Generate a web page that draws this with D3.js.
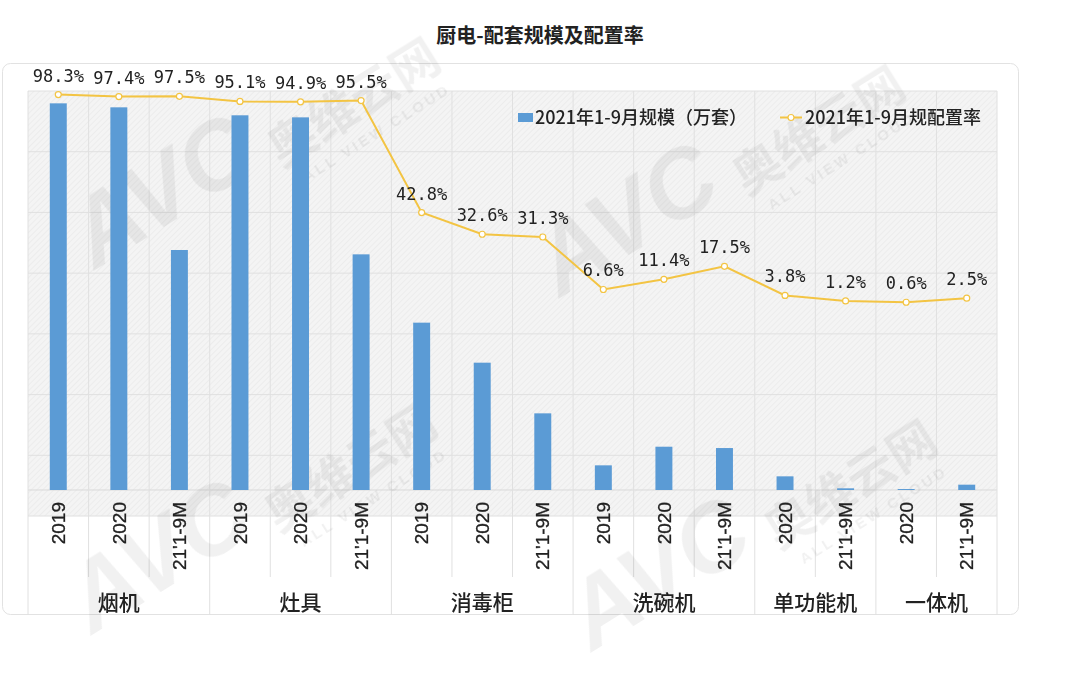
<!DOCTYPE html>
<html>
<head>
<meta charset="utf-8">
<script src="https://cdn.jsdelivr.net/npm/d3@7"></script>
<style>
  body { margin: 0; background: #fff; }
  svg text { font-family: "Noto Sans CJK SC", "Noto Sans", sans-serif; }
</style>
</head>
<body>
<svg id="chart"></svg>
<script>
const width = 1080;
const height = 685;

// data
const groups = ["烟机", "灶具", "消毒柜", "洗碗机", "单功能机", "一体机"];
const groupYears = [
  ["2019", "2020", "21'1-9M"],
  ["2019", "2020", "21'1-9M"],
  ["2019", "2020", "21'1-9M"],
  ["2019", "2020", "21'1-9M"],
  ["2020", "21'1-9M"],
  ["2020", "21'1-9M"]
];
// 2021年1-9月规模（万套）
const scaleValues = [319.8, 316.5, 198.5, 309.9, 308.2, 194.9, 138.4, 105.3, 63.4, 20.4, 35.8, 34.7, 11.3, 1.4, 0.8, 4.4];
// 配置率 (%)
const rateValues = [98.3, 97.4, 97.5, 95.1, 94.9, 95.5, 42.8, 32.6, 31.3, 6.6, 11.4, 17.5, 3.8, 1.2, 0.6, 2.5];
const legendNames = ["2021年1-9月规模（万套）", "2021年1-9月规配置率"];

const blue = "#5b9bd5";
const gold = "#f3c443";

const plotLeft = 28, plotRight = 997, plotTop = 91, gridBottom = 516, base = 490;

// flatten into rows
const rows = [];
groups.forEach((g, gi) => {
  groupYears[gi].forEach(yr => {
    const i = rows.length;
    rows.push({ id: i, group: g, year: yr, value: scaleValues[i], rate: rateValues[i] });
  });
});

const svg = d3.select("#chart")
  .attr("width", width)
  .attr("height", height);

const x = d3.scaleBand()
  .domain(rows.map(d => d.id))
  .range([plotLeft, plotRight])
  .padding(0);

const y = d3.scaleLinear()
  .domain([0, 330])
  .range([base, plotTop]);

const yRate = d3.scaleLinear()
  .domain([-100, 100])
  .range([gridBottom, plotTop]);

// title
svg.append("text")
  .attr("x", 540)
  .attr("y", 43)
  .attr("text-anchor", "middle")
  .attr("font-size", 20)
  .attr("font-weight", "bold")
  .attr("fill", "#222")
  .text("厨电-配套规模及配置率");

// card
svg.append("rect")
  .attr("x", 2.5).attr("y", 63.5)
  .attr("width", 1016).attr("height", 551)
  .attr("rx", 8)
  .attr("fill", "#fff")
  .attr("stroke", "#e2e2e2");

// hatched plot background
const defs = svg.append("defs");
const pat = defs.append("pattern")
  .attr("id", "hatch")
  .attr("width", 4).attr("height", 4)
  .attr("patternUnits", "userSpaceOnUse")
  .attr("patternTransform", "rotate(45)");
pat.append("rect").attr("width", 4).attr("height", 4).attr("fill", "#f4f4f4");
pat.append("line").attr("x1", 0).attr("y1", 0).attr("x2", 0).attr("y2", 4)
  .attr("stroke", "#eaeaea").attr("stroke-width", 1.5);

svg.append("rect")
  .attr("x", plotLeft).attr("y", plotTop)
  .attr("width", plotRight - plotLeft).attr("height", gridBottom - plotTop)
  .attr("fill", "url(#hatch)");

// background grid
const gridRows = d3.range(8).map(k => plotTop + k * (gridBottom - plotTop) / 7);
svg.append("g").selectAll("line")
  .data(gridRows)
  .join("line")
  .attr("x1", plotLeft).attr("x2", plotRight)
  .attr("y1", d => d).attr("y2", d => d)
  .attr("stroke", "#e0e0e0");

svg.append("line")
  .attr("x1", plotLeft).attr("x2", plotRight)
  .attr("y1", base).attr("y2", base)
  .attr("stroke", "#d9d9d9");

// vertical separators
const groupStarts = new Set();
let acc = 0;
groupYears.forEach(g => { groupStarts.add(acc); acc += g.length; });

const edges = d3.range(rows.length + 1);
svg.append("g").selectAll("line")
  .data(edges)
  .join("line")
  .attr("x1", i => i < rows.length ? x(i) : plotRight)
  .attr("x2", i => i < rows.length ? x(i) : plotRight)
  .attr("y1", plotTop)
  .attr("y2", i => (groupStarts.has(i) || i === rows.length) ? 615 : 577)
  .attr("stroke", "#e0e0e0");

// watermarks
const wm = svg.append("g").attr("fill", "#000").attr("opacity", 0.055)
  .attr("font-weight", "bold").attr("pointer-events", "none");
[[95, 270], [560, 298], [92, 635], [592, 652]].forEach(([wx, wy]) => {
  const t = wm.append("g").attr("transform", `translate(${wx},${wy}) rotate(-32)`);
  t.append("text").attr("font-size", 96).attr("font-style", "italic")
    .style("font-family", "'Liberation Sans', sans-serif").text("AVC");
  t.append("text").attr("x", 212).attr("y", 12).attr("font-size", 48).text("奥维云网");
  t.append("text").attr("x", 226).attr("y", 38).attr("font-size", 15)
    .style("font-family", "'Liberation Sans', sans-serif").attr("letter-spacing", 3).text("ALL VIEW CLOUD");
});

// bars
const barW = x.bandwidth() * 0.28;
svg.append("g").selectAll("rect")
  .data(rows)
  .join("rect")
  .attr("x", d => x(d.id) + (x.bandwidth() - barW) / 2)
  .attr("y", d => y(d.value))
  .attr("width", barW)
  .attr("height", d => base - y(d.value))
  .attr("fill", blue);

// rate line
const line = d3.line()
  .x(d => x(d.id) + x.bandwidth() / 2)
  .y(d => yRate(d.rate));

svg.append("path")
  .datum(rows)
  .attr("d", line)
  .attr("fill", "none")
  .attr("stroke", gold)
  .attr("stroke-width", 2);

svg.append("g").selectAll("circle")
  .data(rows)
  .join("circle")
  .attr("cx", d => x(d.id) + x.bandwidth() / 2)
  .attr("cy", d => yRate(d.rate))
  .attr("r", 3)
  .attr("fill", "#fff")
  .attr("stroke", gold)
  .attr("stroke-width", 1.2);

svg.append("g").selectAll("text")
  .data(rows)
  .join("text")
  .attr("x", d => x(d.id) + x.bandwidth() / 2)
  .attr("y", d => yRate(d.rate) - 13)
  .attr("text-anchor", "middle")
  .attr("font-size", 17)
  .style("font-family", "'DejaVu Sans Mono', monospace")
  .attr("fill", "#222")
  .text(d => d.rate.toFixed(1) + "%");

// year tick labels
svg.append("g").selectAll("text")
  .data(rows)
  .join("text")
  .attr("transform", d => `translate(${x(d.id) + x.bandwidth() / 2},502) rotate(-90)`)
  .attr("text-anchor", "end")
  .attr("dy", "0.35em")
  .attr("font-size", 19)
  .style("font-family", "'Liberation Sans', Arial, sans-serif")
  .attr("fill", "#222")
  .attr("stroke", "#222")
  .attr("stroke-width", 0.3)
  .text(d => d.year);

// group labels
acc = 0;
const groupPos = groups.map((g, gi) => {
  const a = acc, b = acc + groupYears[gi].length - 1;
  acc += groupYears[gi].length;
  return { name: g, cx: (x(a) + x(b) + x.bandwidth()) / 2 };
});
svg.append("g").selectAll("text")
  .data(groupPos)
  .join("text")
  .attr("x", d => d.cx)
  .attr("y", 610)
  .attr("text-anchor", "middle")
  .attr("font-size", 21)
  .attr("font-weight", 500)
  .attr("fill", "#222")
  .text(d => d.name);

// legend
const lg = svg.append("g");
lg.append("rect").attr("x", 518).attr("y", 113).attr("width", 15).attr("height", 9).attr("fill", blue);
lg.append("text").attr("x", 535).attr("y", 124).attr("font-size", 18).attr("font-weight", 500)
  .attr("fill", "#222").text(legendNames[0]);
lg.append("line").attr("x1", 780).attr("x2", 802).attr("y1", 117.5).attr("y2", 117.5)
  .attr("stroke", gold).attr("stroke-width", 2);
lg.append("circle").attr("cx", 791).attr("cy", 117.5).attr("r", 3)
  .attr("fill", "#fff").attr("stroke", gold).attr("stroke-width", 1.2);
lg.append("text").attr("x", 805).attr("y", 124).attr("font-size", 18).attr("font-weight", 500)
  .attr("fill", "#222").text(legendNames[1]);
</script>
</body>
</html>
